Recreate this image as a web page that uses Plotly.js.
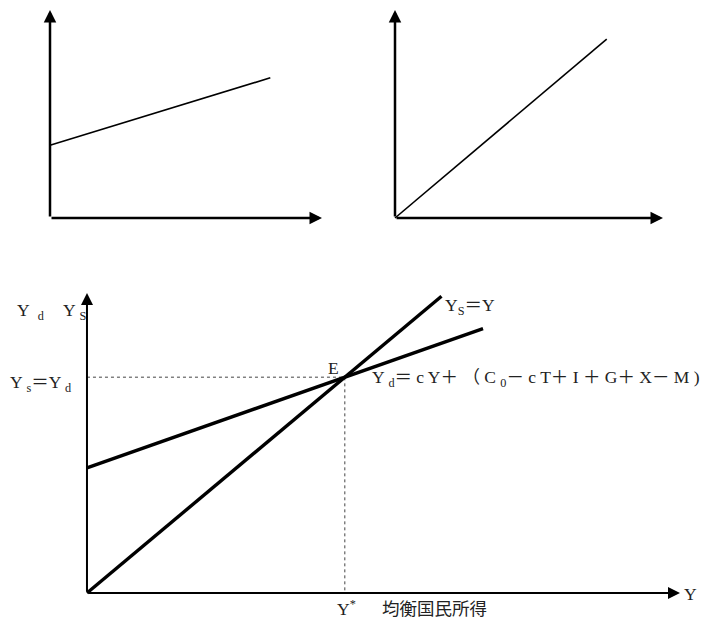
<!DOCTYPE html>
<html>
<head>
<meta charset="utf-8">
<script src="https://cdn.plot.ly/plotly-3.0.1.min.js"></script>
<style>html,body{margin:0;padding:0;background:#fff;}#chart{width:719px;height:619px;}</style>
</head>
<body>
<div id="chart"></div>
<script>
// ---- data ----
// top-left panel: line with positive intercept
const tlX = [0, 8.1];
const tlY = [3.5, 6.74];
// top-right panel: line through the origin
const trX = [0, 7.9];
const trY = [0, 8.6];
// bottom panel: Ys = Y (supply)
const supplyX = [0, 137.5];
const supplyY = [0, 137.5];
// bottom panel: Yd = cY + (C0 - cT + I + G + X - M) (demand)
const demandX = [0, 153.6];
const demandY = [58, 122.5];
// equilibrium point E
const eqX = 100;
const eqY = 100;
// axis ends (arrow tips)
const topAxisEnd = 10;
const bottomXEnd = 230;
const bottomYEnd = 139;

// ---- labels ----
const labelYdAxis = 'Y  <sub>d</sub>';
const labelYsAxis = 'Y <sub>S</sub>';
const labelEq = 'Y <sub>s</sub>＝Y <sub>d</sub>';
const labelE = 'E';
const labelSupply = 'Y<sub>S</sub>＝Y';
const labelDemand = 'Y <sub>d</sub>＝ c Y＋ （ C <sub>0</sub>－ c T＋ I ＋ G＋ X－ M )';
const labelXAxis = 'Y';
const labelYstar = 'Y<sup>*</sup>　  均衡国民所得';

const FONT = 'Liberation Serif, "Noto Sans CJK JP", serif';
const W = 719, H = 619;

const traces = [
  {x: tlX, y: tlY, xaxis: 'x', yaxis: 'y', mode: 'lines', line: {color: '#000', width: 1.6}, hoverinfo: 'skip'},
  {x: trX, y: trY, xaxis: 'x2', yaxis: 'y2', mode: 'lines', line: {color: '#000', width: 1.6}, hoverinfo: 'skip'},
  {x: [0, eqX, eqX], y: [eqY, eqY, 0], xaxis: 'x3', yaxis: 'y3', mode: 'lines', line: {color: '#444', width: 1, dash: 'dot'}, hoverinfo: 'skip'},
  {x: supplyX, y: supplyY, xaxis: 'x3', yaxis: 'y3', mode: 'lines', line: {color: '#000', width: 3.4}, hoverinfo: 'skip'},
  {x: demandX, y: demandY, xaxis: 'x3', yaxis: 'y3', mode: 'lines', line: {color: '#000', width: 3.4}, hoverinfo: 'skip'}
];

function hidden(range, domain, anchor) {
  return {range: range, domain: domain, anchor: anchor, visible: false, showgrid: false, zeroline: false, fixedrange: true};
}

function axisArrow(xr, yr, x, y, ax, ay, w, size) {
  return {xref: xr, yref: yr, axref: xr, ayref: yr, x: x, y: y, ax: ax, ay: ay, text: '',
          showarrow: true, arrowhead: 2, arrowsize: size, arrowwidth: w, arrowcolor: '#000', standoff: 0, startstandoff: 0};
}

function label(text, px, py, anchor, size) {
  return {xref: 'paper', yref: 'paper', x: px / W, y: 1 - py / H, xanchor: anchor || 'left', yanchor: 'middle',
          text: text, showarrow: false, font: {family: FONT, size: size || 17.5, color: '#222'}};
}

const annotations = [
  axisArrow('x', 'y', topAxisEnd, 0, 0, 0, 2.5, 1),
  axisArrow('x', 'y', 0, topAxisEnd, 0, 0, 2.5, 1),
  axisArrow('x2', 'y2', topAxisEnd, 0, 0, 0, 2.5, 1),
  axisArrow('x2', 'y2', 0, topAxisEnd, 0, 0, 2.5, 1),
  axisArrow('x3', 'y3', bottomXEnd, 0, 0, 0, 2, 1.2),
  axisArrow('x3', 'y3', 0, bottomYEnd, 0, 0, 2, 1.2),
  label(labelYdAxis, 15, 311),
  label(labelYsAxis, 61, 311),
  label(labelEq, 8, 383),
  label(labelE, 333, 368, 'center'),
  label(labelSupply, 443, 306),
  label(labelDemand, 370, 378),
  label(labelXAxis, 682, 594),
  label(labelYstar, 335, 608)
];

const layout = {
  width: W, height: H, autosize: false,
  margin: {l: 0, r: 0, t: 0, b: 0},
  paper_bgcolor: '#fff', plot_bgcolor: 'rgba(0,0,0,0)',
  showlegend: false,
  xaxis: hidden([-1, 10], [22.8 / W, 322 / W], 'y'),
  yaxis: hidden([-1, 10], [1 - 238.8 / H, 1 - 10 / H], 'x'),
  xaxis2: hidden([-1, 10], [368.2 / W, 663 / W], 'y2'),
  yaxis2: hidden([-1, 10], [1 - 238.8 / H, 1 - 10 / H], 'x2'),
  xaxis3: hidden([-10, 230], [61.2 / W, 680 / W], 'y3'),
  yaxis3: hidden([-10, 139], [1 - 614.6 / H, 1 - 293 / H], 'x3'),
  annotations: annotations
};

Plotly.newPlot('chart', traces, layout, {staticPlot: true, displayModeBar: false});
</script>
</body>
</html>
